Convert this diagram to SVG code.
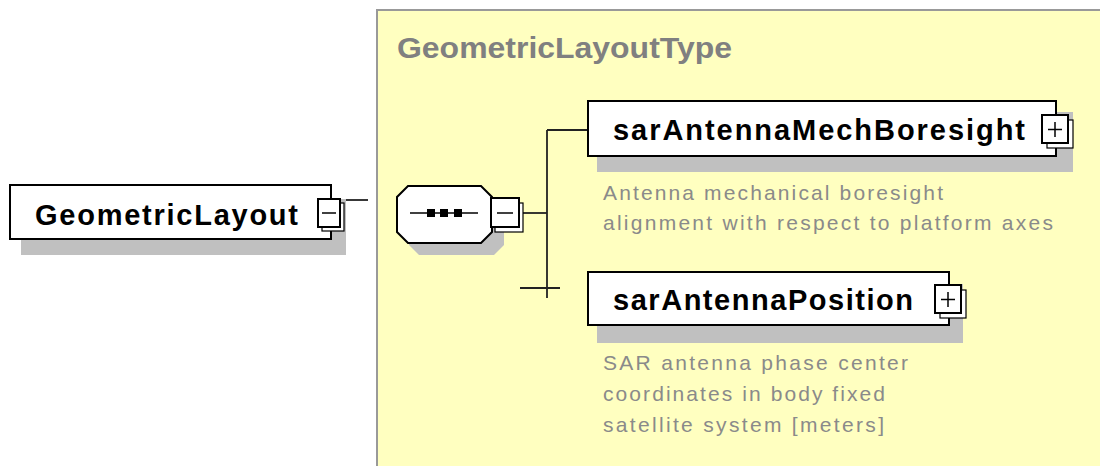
<svg xmlns="http://www.w3.org/2000/svg" width="1100" height="466" viewBox="0 0 1100 466">
<style>
.name{font-family:"Liberation Sans",Arial,sans-serif;font-weight:bold;font-size:29px;fill:#000}
.desc{font-family:"Liberation Sans",Arial,sans-serif;font-size:21px;fill:#8a8a8a}
.title{font-family:"Liberation Sans",Arial,sans-serif;font-weight:bold;font-size:29px;fill:#808080}
.box{fill:#fff;stroke:#000;stroke-width:2}
.shadow{fill:#c0c0c0}
.ib{fill:#fff;stroke:#000;stroke-width:1.2}
.if{fill:#fff;stroke:#000;stroke-width:2}
.sym{stroke:#000;stroke-width:1.5;fill:none}
.conn{stroke:#222;stroke-width:1.8;fill:none}
</style>
<rect width="1100" height="466" fill="#fff"/>
<g id="GeometricLayoutType">
<rect x="377" y="10" width="740" height="470" fill="#ffffc0" stroke="#999" stroke-width="2"/>
<text class="title" x="397" y="58" textLength="335" lengthAdjust="spacingAndGlyphs">GeometricLayoutType</text>
</g>
<g id="connectors">
<line class="conn" x1="343" y1="200" x2="368" y2="200"/>
<line class="conn" x1="523" y1="213" x2="547" y2="213"/>
<line class="conn" x1="547" y1="130" x2="547" y2="298"/>
<line class="conn" x1="547" y1="130" x2="588" y2="130"/>
<line class="conn" x1="520" y1="288" x2="560" y2="288"/>
</g>
<g id="GeometricLayout">
<rect class="shadow" x="21" y="199" width="325" height="56"/>
<rect class="box" x="10" y="185" width="321" height="54"/>
<text class="name" x="35" y="225" textLength="263" lengthAdjust="spacing">GeometricLayout</text>
<rect class="ib" x="322" y="203" width="22" height="28"/>
<rect class="if" x="318" y="199" width="22" height="28"/>
<line class="sym" x1="322" y1="213" x2="336" y2="213"/>
</g>
<g id="sequence">
<polygon class="shadow" points="419,198 494,198 504,208 504,245 494,255 419,255 409,245 409,208"/>
<polygon class="box" points="408,186 481,186 492,197 492,232 481,243 408,243 397,232 397,197"/>
<line x1="410" y1="213" x2="478" y2="213" stroke="#000" stroke-width="1.5"/>
<rect x="427" y="209" width="8" height="8" fill="#000"/>
<rect x="440" y="209" width="8" height="8" fill="#000"/>
<rect x="454" y="209" width="8" height="8" fill="#000"/>
<rect class="ib" x="495" y="203" width="28" height="29"/>
<rect class="if" x="491" y="198" width="28" height="29"/>
<line class="sym" x1="497" y1="213" x2="513" y2="213"/>
</g>
<g id="sarAntennaMechBoresight">
<rect class="shadow" x="597" y="112" width="476" height="60"/>
<rect class="box" x="588" y="101" width="468" height="55"/>
<text class="name" x="613" y="140" textLength="412" lengthAdjust="spacing">sarAntennaMechBoresight</text>
<rect class="ib" x="1047" y="120" width="26" height="28"/>
<rect class="if" x="1042" y="115" width="26" height="28"/>
<line class="sym" x1="1048" y1="129.5" x2="1062" y2="129.5"/>
<line class="sym" x1="1055" y1="122" x2="1055" y2="137"/>
<text class="desc" x="603" y="200" textLength="340" lengthAdjust="spacing">Antenna mechanical boresight</text>
<text class="desc" x="603" y="230" textLength="450" lengthAdjust="spacing">alignment with respect to platform axes</text>
</g>
<g id="sarAntennaPosition">
<rect class="shadow" x="597" y="284" width="366" height="59"/>
<rect class="box" x="588" y="272" width="361" height="53"/>
<text class="name" x="613" y="310" textLength="300" lengthAdjust="spacing">sarAntennaPosition</text>
<rect class="ib" x="940" y="290" width="26" height="28"/>
<rect class="if" x="935" y="285" width="26" height="28"/>
<line class="sym" x1="941" y1="299.5" x2="955" y2="299.5"/>
<line class="sym" x1="948" y1="292" x2="948" y2="307"/>
<text class="desc" x="603" y="370" textLength="305" lengthAdjust="spacing">SAR antenna phase center</text>
<text class="desc" x="603" y="401" textLength="282" lengthAdjust="spacing">coordinates in body fixed</text>
<text class="desc" x="603" y="432" textLength="281" lengthAdjust="spacing">satellite system [meters]</text>
</g>
</svg>
